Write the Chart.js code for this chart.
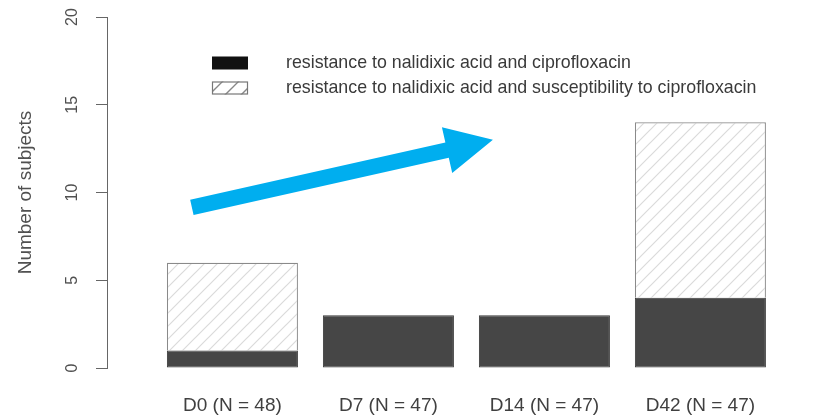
<!DOCTYPE html>
<html>
<head>
<meta charset="utf-8">
<script src="https://cdn.jsdelivr.net/npm/chart.js@4/dist/chart.umd.min.js"></script>
<style>
  html, body { margin: 0; padding: 0; background: #fff; }
  #wrap { width: 826px; height: 418px; }
</style>
</head>
<body>
<div id="wrap"><canvas id="chart" width="826" height="418"></canvas></div>
<script>
const categories = ["D0 (N = 48)", "D7 (N = 47)", "D14 (N = 47)", "D42 (N = 47)"];
const bothResistant = [1, 3, 3, 4];
const nalidixicOnly = [5, 0, 0, 10];
const yTicks = [0, 5, 10, 15, 20];
const seriesLabels = [
  "resistance to nalidixic acid and ciprofloxacin",
  "resistance to nalidixic acid and susceptibility to ciprofloxacin"
];
// arrow overlay, in data units (x = category index, y = subjects)
const arrowFrom = [-0.26, 9.15];
const arrowTo = [1.67, 13.0];

function makeHatch(color, size, lw) {
  const c = document.createElement("canvas");
  c.width = size; c.height = size;
  const g = c.getContext("2d");
  g.fillStyle = "#ffffff";
  g.fillRect(0, 0, size, size);
  g.strokeStyle = color;
  g.lineWidth = lw;
  g.beginPath();
  g.moveTo(0, size); g.lineTo(size, 0);
  g.moveTo(-size / 2, size / 2); g.lineTo(size / 2, -size / 2);
  g.moveTo(size / 2, size * 1.5); g.lineTo(size * 1.5, size / 2);
  g.stroke();
  return g.createPattern(c, "repeat");
}

const barHatch = makeHatch("#dadada", 13, 1.2);
const legendHatch = makeHatch("#888888", 16, 1.4);

const toXY = arr => arr.map((v, i) => ({ x: i, y: v }));

const legendPlugin = {
  id: "rLegend",
  afterDraw(chart) {
    const ctx = chart.ctx;
    ctx.save();
    ctx.font = "17.8px 'Liberation Sans', Arial, sans-serif";
    ctx.textBaseline = "middle";
    ctx.textAlign = "left";
    chart.data.datasets.forEach((ds, i) => {
      const y = 63 + i * 25;
      ctx.fillStyle = i === 0 ? "#111111" : legendHatch;
      ctx.fillRect(212, y - 6.5, 36, 13);
      if (i === 1) {
        ctx.strokeStyle = "#777";
        ctx.lineWidth = 1.2;
        ctx.strokeRect(212.5, y - 6, 35, 12);
      }
      ctx.fillStyle = "#3a3a3a";
      ctx.fillText(ds.label, 286, y);
    });
    ctx.restore();
  }
};

const arrowPlugin = {
  id: "arrow",
  afterDraw(chart) {
    const xs = chart.scales.x, ys = chart.scales.y;
    const x0 = xs.getPixelForValue(arrowFrom[0]), y0 = ys.getPixelForValue(arrowFrom[1]);
    const x1 = xs.getPixelForValue(arrowTo[0]), y1 = ys.getPixelForValue(arrowTo[1]);
    const dx = x1 - x0, dy = y1 - y0, len = Math.hypot(dx, dy);
    const ux = dx / len, uy = dy / len, nx = -uy, ny = ux;
    const headLen = 47, headHalf = 23.5, shaftHalf = 7.8;
    const bx = x1 - ux * headLen, by = y1 - uy * headLen;
    const ctx = chart.ctx;
    ctx.save();
    ctx.fillStyle = "#00aeef";
    ctx.beginPath();
    ctx.moveTo(x0 + nx * shaftHalf, y0 + ny * shaftHalf);
    ctx.lineTo(bx + nx * shaftHalf, by + ny * shaftHalf);
    ctx.lineTo(bx + nx * headHalf, by + ny * headHalf);
    ctx.lineTo(x1, y1);
    ctx.lineTo(bx - nx * headHalf, by - ny * headHalf);
    ctx.lineTo(bx - nx * shaftHalf, by - ny * shaftHalf);
    ctx.lineTo(x0 - nx * shaftHalf, y0 - ny * shaftHalf);
    ctx.closePath();
    ctx.fill();
    ctx.restore();
  }
};

const ctx = document.getElementById("chart").getContext("2d");
new Chart(ctx, {
  type: "bar",
  data: {
    datasets: [
      {
        label: seriesLabels[0],
        data: toXY(bothResistant),
        backgroundColor: "#464646",
        borderColor: "#3a3a3a",
        borderWidth: 1,
        borderSkipped: false,
        barPercentage: 0.84,
        categoryPercentage: 1
      },
      {
        label: seriesLabels[1],
        data: toXY(nalidixicOnly),
        backgroundColor: barHatch,
        borderColor: "#8a8a8a",
        borderWidth: c => (c.raw && c.raw.y === 0 ? 0 : 1.2),
        borderSkipped: "bottom",
        barPercentage: 0.84,
        categoryPercentage: 1
      }
    ]
  },
  options: {
    responsive: false,
    animation: false,
    events: [],
    layout: { padding: { top: 17, right: 32, left: 0, bottom: 0 } },
    plugins: {
      legend: { display: false },
      tooltip: { enabled: false }
    },
    scales: {
      x: {
        type: "linear",
        stacked: true,
        offset: false,
        min: -0.804,
        max: 3.6,
        grid: { display: false, offset: false },
        border: { display: false },
        afterFit: s => { s.height = 50; s.paddingLeft = 0; s.paddingRight = 0; },
        afterBuildTicks: s => { s.ticks = categories.map((c, i) => ({ value: i })); },
        ticks: {
          padding: 18,
          autoSkip: false,
          maxRotation: 0,
          color: "#404040",
          font: { family: "'Liberation Sans', Arial, sans-serif", size: 19 },
          callback: v => categories[v]
        }
      },
      y: {
        stacked: true,
        min: 0,
        max: 20,
        afterFit: s => { s.width = 107; s.paddingTop = 0; s.paddingBottom = 0; },
        afterBuildTicks: s => { s.ticks = yTicks.map(v => ({ value: v })); },
        grid: { drawOnChartArea: false, drawTicks: true, tickLength: 11, color: "#666" },
        border: { display: true, color: "#666", width: 1 },
        ticks: {
          minRotation: 90,
          maxRotation: 90,
          crossAlign: "center",
          padding: 15,
          color: "#505050",
          font: { family: "'Liberation Sans', Arial, sans-serif", size: 16 }
        },
        title: {
          display: true,
          text: "Number of subjects",
          color: "#505050",
          padding: { top: 14, bottom: 0 },
          font: { family: "'Liberation Sans', Arial, sans-serif", size: 19 }
        }
      }
    }
  },
  plugins: [legendPlugin, arrowPlugin]
});
</script>
</body>
</html>
